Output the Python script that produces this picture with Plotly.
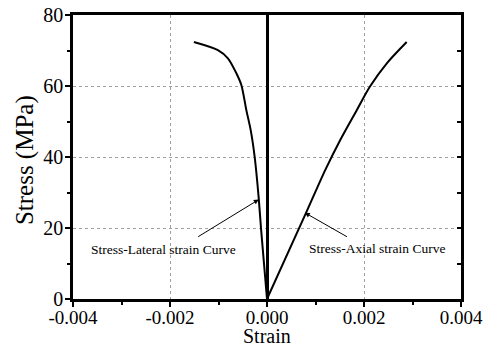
import plotly.graph_objects as go

# Data
lateral_strain = [0.0, -0.000062, -0.000124, -0.000171, -0.000254, -0.000335, -0.000426, -0.000529, -0.000632, -0.000806, -0.001012, -0.001508]
lateral_stress = [0.0, 10.0, 20.0, 28.4, 40.0, 47.5, 53.2, 60.3, 63.6, 67.8, 70.1, 72.4]

axial_strain = [0.0, 0.0008, 0.0012, 0.00151, 0.00185, 0.00212, 0.00247, 0.00288]
axial_stress = [0.0, 24.1, 36.3, 44.8, 53.2, 59.8, 66.4, 72.4]

x_ticks = [-0.004, -0.002, 0.000, 0.002, 0.004]
x_ticklabels = ["-0.004", "-0.002", "0.000", "0.002", "0.004"]
y_ticks = [0, 20, 40, 60, 80]
y_ticklabels = ["0", "20", "40", "60", "80"]
x_title = "Strain"
y_title = "Stress (MPa)"

FONT = "Liberation Serif"

fig = go.Figure()
fig.add_trace(go.Scatter(x=lateral_strain, y=lateral_stress, mode="lines",
                         line=dict(color="black", width=2, shape="spline", smoothing=0.8),
                         showlegend=False))
fig.add_trace(go.Scatter(x=axial_strain, y=axial_stress, mode="lines",
                         line=dict(color="black", width=2, shape="spline", smoothing=0.8),
                         showlegend=False))

fig.update_layout(
    width=491, height=348,
    margin=dict(l=73, r=30, t=15, b=49, autoexpand=False),
    plot_bgcolor="white", paper_bgcolor="white",
    font=dict(family=FONT, color="black", size=20),
    xaxis=dict(
        range=[-0.004, 0.004], tickvals=x_ticks, ticktext=x_ticklabels, automargin=False,
        ticks="outside", ticklen=5, tickwidth=1.5, tickcolor="black", ticklabelstandoff=-6,
        minor=dict(dtick=0.001, ticks="outside", ticklen=3, tickwidth=1.5, tickcolor="black", showgrid=False),
        showline=True, linecolor="black", linewidth=2.5, mirror=True,
        showgrid=True, gridcolor="#a0a0a0", griddash="dot", gridwidth=1,
        zeroline=True, zerolinecolor="black", zerolinewidth=2.5,
        tickfont=dict(family=FONT, size=19, color="black"),
    ),
    yaxis=dict(
        range=[0, 80], tickvals=y_ticks, ticktext=y_ticklabels, automargin=False,
        ticks="outside", ticklen=5, tickwidth=1.5, tickcolor="black", ticklabelstandoff=-2,
        minor=dict(dtick=10, ticks="outside", ticklen=3, tickwidth=1.5, tickcolor="black", showgrid=False),
        showline=True, linecolor="black", linewidth=2.5, mirror=True,
        showgrid=True, gridcolor="#a0a0a0", griddash="dot", gridwidth=1,
        zeroline=False,
        tickfont=dict(family=FONT, size=20, color="black"),
    ),
    yaxis2=dict(
        range=[0, 80], overlaying="y", side="right", dtick=10, automargin=False,
        ticks="inside", ticklen=4, tickwidth=1.5, tickcolor="black",
        showticklabels=False, showgrid=False, zeroline=False, showline=False,
    ),
)
# invisible trace to activate yaxis2 (right-side inner ticks)
fig.add_trace(go.Scatter(x=[None], y=[None], yaxis="y2", showlegend=False, hoverinfo="skip"))

# axis titles
fig.add_annotation(x=0.0, y=-0.13, xref="x", yref="paper", text=x_title, showarrow=False,
                   xanchor="center", yanchor="middle", font=dict(family=FONT, size=20, color="black"))
fig.add_annotation(x=-0.123, y=0.49, xref="paper", yref="paper", text=y_title, showarrow=False,
                   textangle=-90, xanchor="center", yanchor="middle", font=dict(family=FONT, size=25, color="black"))

# curve labels with arrows
fig.add_annotation(x=-0.00017, y=28.0, ax=-0.00145, ay=17.3, xref="x", yref="y", axref="x", ayref="y",
                   text="", showarrow=True, arrowhead=2, arrowsize=1, arrowwidth=1, arrowcolor="black")
fig.add_annotation(x=-0.00213, y=14.0, xref="x", yref="y", text="Stress-Lateral strain Curve",
                   showarrow=False, font=dict(family=FONT, size=13.5, color="black"))
fig.add_annotation(x=0.00078, y=24.3, ax=0.00168, ay=17.3, xref="x", yref="y", axref="x", ayref="y",
                   text="", showarrow=True, arrowhead=2, arrowsize=1, arrowwidth=1, arrowcolor="black")
fig.add_annotation(x=0.00226, y=14.2, xref="x", yref="y", text="Stress-Axial strain Curve",
                   showarrow=False, font=dict(family=FONT, size=13.5, color="black"))

fig.write_html("out.html")
